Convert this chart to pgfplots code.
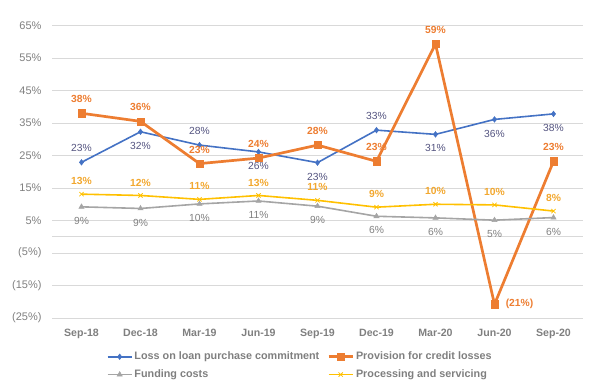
\documentclass[border=0pt]{standalone}
\usepackage{pgfplots}
\pgfplotsset{compat=1.18}
\usepackage{pgfplotstable}
\usepackage{fontspec}
\setmainfont{Liberation Sans}
\definecolor{cblue}{HTML}{4472C4}
\definecolor{cblab}{HTML}{545480}
\definecolor{corange}{HTML}{ED7D31}
\definecolor{cgray}{HTML}{A5A5A5}
\definecolor{cglab}{HTML}{808080}
\definecolor{cyellow}{HTML}{FFC000}
\definecolor{cylab}{HTML}{F2A72E}
\definecolor{gridc}{HTML}{D9D9D9}
\definecolor{txt}{HTML}{7F7F7F}

% x  y  lab  dx  dy
\pgfplotstableread{
x y lab dx dy
0 22.9 23 0 14.5
1 32.3 32 0 -14
2 28.2 28 0 14
3 26.1 26 0 -14
4 22.8 23 0 -14.5
5 32.8 33 0 14
6 31.5 31 0 -14
7 36.1 36 0 -14.5
8 37.8 38 0 -14
}\loss
\pgfplotstableread{
x y lab dx dy
0 38.0 38 0 14.5
1 35.5 36 0 14.5
2 22.5 23 0 14
3 24.2 24 0 14.5
4 28.2 28 0 14.5
5 23.2 23 0 14.5
6 59.3 59 0 14.5
7 -20.8 -21 25 0.5
8 23.2 23 0 14.5
}\prov
\pgfplotstableread{
x y lab dx dy
0 9.2 9 0 -14
1 8.7 9 0 -14
2 10.1 10 0 -14
3 11.0 11 0 -14
4 9.4 9 0 -14
5 6.3 6 0 -14
6 5.8 6 0 -14
7 5.1 5 0 -14
8 5.9 6 0 -14
}\fund
\pgfplotstableread{
x y lab dx dy
0 13.1 13 0 13
1 12.7 12 0 13
2 11.5 11 0 13
3 12.7 13 0 13
4 11.2 11 0 13
5 9.1 9 0 13
6 10.0 10 0 13
7 9.8 10 0 13
8 7.9 8 0 13
}\proc

\newcommand{\pctlabel}{\ifnum\pgfplotspointmeta<0 (\the\numexpr-\pgfplotspointmeta\relax\%)\else\pgfplotspointmeta\%\fi}

\begin{document}
\begin{tikzpicture}
\useasboundingbox (0,0) rectangle (600pt,387pt);
\begin{axis}[
  at={(52pt,69pt)}, anchor=south west,
  scale only axis, width=531pt, height=292.5pt,
  xmin=-0.5, xmax=8.5, ymin=-25, ymax=65,
  xtick={0,...,8},
  xticklabels={Sep-18,Dec-18,Mar-19,Jun-19,Sep-19,Dec-19,Mar-20,Jun-20,Sep-20},
  ytick={-25,-15,-5,5,15,25,35,45,55,65},
  yticklabels={(25\%),(15\%),(5\%),5\%,15\%,25\%,35\%,45\%,55\%,65\%},
  extra y ticks={0}, extra y tick labels={},
  extra y tick style={grid=major, major grid style={gridc, line width=0.8pt}},
  ymajorgrids, major grid style={gridc, line width=0.8pt},
  axis line style={draw=none},
  tick style={draw=none},
  yticklabel style={font=\fontsize{11}{13}\selectfont, text=txt, anchor=east, xshift=-7pt},
  xticklabel style={font=\fontsize{10.6}{12}\selectfont\bfseries, text=txt, yshift=-8pt},
  clip=false,
  point meta=explicit symbolic,
  visualization depends on={\thisrow{dx} \as \ndx},
  visualization depends on={\thisrow{dy} \as \ndy},
  nodes near coords={\pctlabel},
  nodes near coords style={anchor=center, xshift=\ndx pt, yshift=\ndy pt, font=\fontsize{10.3}{12}\selectfont, inner sep=0pt},
  legend columns=2,
  legend cell align=left,
  legend style={draw=none, fill=none, at={(0.103,-0.109)}, anchor=north west, inner sep=0pt,
    font=\fontsize{10.8}{13}\selectfont\bfseries, text=txt,
    /tikz/every even column/.append style={column sep=6pt},
    row sep=4.5pt},
  legend image code/.code={
    \draw[mark repeat=2, mark phase=2, #1] plot coordinates {(0pt,0pt) (12pt,0pt) (24pt,0pt)};
  },
]
\addplot[cblue, line width=1.6pt, mark=diamond*, mark size=2.8pt, mark options={line width=0.5pt},
  nodes near coords style={text=cblab}] table[x=x, y=y, meta=lab] {\loss};
\addlegendentry{Loss on loan purchase commitment}
\addplot[corange, line width=2.7pt, mark=square*, mark size=3.6pt, mark options={line width=0.5pt},
  nodes near coords style={text=corange, font=\fontsize{10.3}{12}\selectfont\bfseries}] table[x=x, y=y, meta=lab] {\prov};
\addlegendentry{Provision for credit losses}
\addplot[cgray, line width=1.6pt, mark=triangle*, mark size=3pt, mark options={line width=0.5pt},
  nodes near coords style={text=cglab}] table[x=x, y=y, meta=lab] {\fund};
\addlegendentry{Funding costs}
\addplot[cyellow, line width=1.6pt, mark=x, mark size=3pt, mark options={line width=0.8pt},
  nodes near coords style={text=cylab, font=\fontsize{10.3}{12}\selectfont\bfseries}] table[x=x, y=y, meta=lab] {\proc};
\addlegendentry{Processing and servicing}
\end{axis}
\end{tikzpicture}
\end{document}
